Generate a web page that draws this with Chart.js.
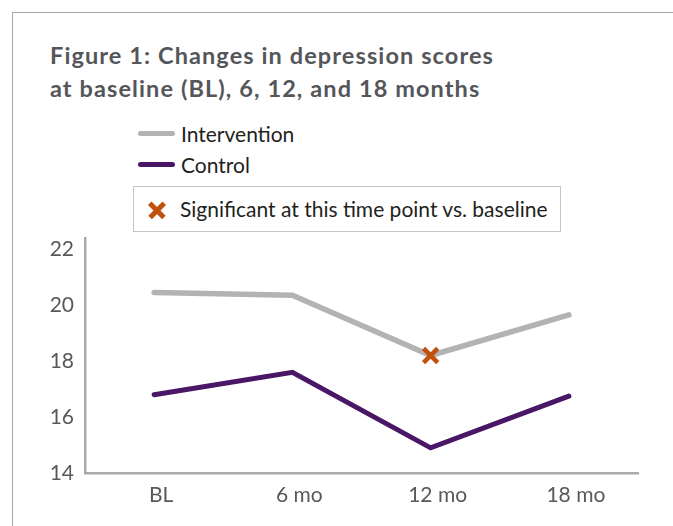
<!DOCTYPE html>
<html>
<head>
<meta charset="utf-8">
<script src="https://cdn.jsdelivr.net/npm/chart.js@4/dist/chart.umd.min.js"></script>
<style>
  html, body { margin: 0; padding: 0; background: #fff; }
  body { width: 673px; height: 526px; position: relative; overflow: hidden; font-family: "Lato", "Open Sans", sans-serif; }
  #frame { position: absolute; left: 12px; top: 12px; width: 700px; height: 600px; border-left: 1.5px solid #a6a6a6; border-top: 1.5px solid #a6a6a6; }
  #title { position: absolute; left: 50px; top: 39px; font-size: 23.5px; letter-spacing: 1.1px; font-weight: bold; color: #54565a; line-height: 33px; white-space: nowrap; }
  .leg { position: absolute; left: 138px; font-size: 21px; color: #231f20; display: flex; align-items: center; line-height: 25px; }
  .leg .ln { width: 37px; height: 5px; border-radius: 3px; margin-right: 6px; }
  #sig { position: absolute; left: 133px; top: 186px; width: 426px; height: 44px; border: 1.5px solid #c4c4c4; font-size: 21px; color: #231f20; line-height: 25px; }
  #sig .txt { position: absolute; left: 46px; top: 8.5px; white-space: nowrap; }
  #sig .x { position: absolute; left: 14px; top: 14px; width: 18px; height: 18px; }
  #sig .x::before, #sig .x::after { content: ""; position: absolute; left: -1px; top: 7px; width: 20px; height: 4.5px; background: #c0500a; }
  #sig .x::before { transform: rotate(45deg); }
  #sig .x::after { transform: rotate(-45deg); }
  canvas { position: absolute; left: 0; top: 0; }
</style>
</head>
<body>
<div id="frame"></div>
<div id="title">Figure 1: Changes in depression scores<br>at baseline (BL), 6, 12, and 18 months</div>
<div class="leg" style="top:121px"><span class="ln" style="background:#b3b3b3"></span>Intervention</div>
<div class="leg" style="top:152px"><span class="ln" style="background:#4a1766"></span>Control</div>
<div id="sig"><span class="x"></span><span class="txt">Significant at this time point vs. baseline</span></div>
<canvas id="c" width="673" height="526"></canvas>
<script>
const categories = ["BL", "6 mo", "12 mo", "18 mo"];
const interventionValues = [20.45, 20.35, 18.2, 19.65];
const controlValues = [16.8, 17.6, 14.9, 16.75];
const significantValues = [null, null, 18.2, null];
const yTicks = [14, 16, 18, 20, 22];

const ctx = document.getElementById('c').getContext('2d');
new Chart(ctx, {
  type: 'line',
  data: {
    labels: categories,
    datasets: [
      { label: 'Intervention', data: interventionValues, borderColor: '#b3b3b3', borderWidth: 5.5, pointRadius: 0, borderCapStyle: 'round', borderJoinStyle: 'miter', tension: 0, order: 2 },
      { label: 'Control', data: controlValues, borderColor: '#4a1766', borderWidth: 5, pointRadius: 0, borderCapStyle: 'round', borderJoinStyle: 'miter', tension: 0, order: 3 },
      { label: 'Significant', data: significantValues, showLine: false, pointStyle: 'crossRot', pointRadius: 10, pointBorderWidth: 4.5, pointBorderColor: '#c0500a', pointBackgroundColor: '#c0500a', order: 1 }
    ]
  },
  options: {
    responsive: false,
    animation: false,
    layout: { padding: { left: 35, right: 35, top: 238, bottom: 13 } },
    plugins: { legend: { display: false }, title: { display: false }, tooltip: { enabled: false } },
    scales: {
      x: {
        offset: true,
        grid: { display: false, drawTicks: false },
        border: { display: true, color: '#a9a9ab', width: 2.5 },
        ticks: { color: '#58595b', font: { family: 'Lato', size: 21 }, padding: 10, maxRotation: 0, labelOffset: 7 },
        afterFit: s => { s.height = 40; }
      },
      y: {
        min: 14, max: 22.4,
        grid: { display: false, drawTicks: false },
        border: { display: true, color: '#a9a9ab', width: 2.5 },
        afterBuildTicks: s => { s.ticks = yTicks.map(v => ({ value: v })); },
        ticks: { color: '#58595b', font: { family: 'Lato', size: 21 }, padding: 11 },
        afterFit: s => { s.width = 50; }
      }
    }
  }
});
</script>
</body>
</html>
